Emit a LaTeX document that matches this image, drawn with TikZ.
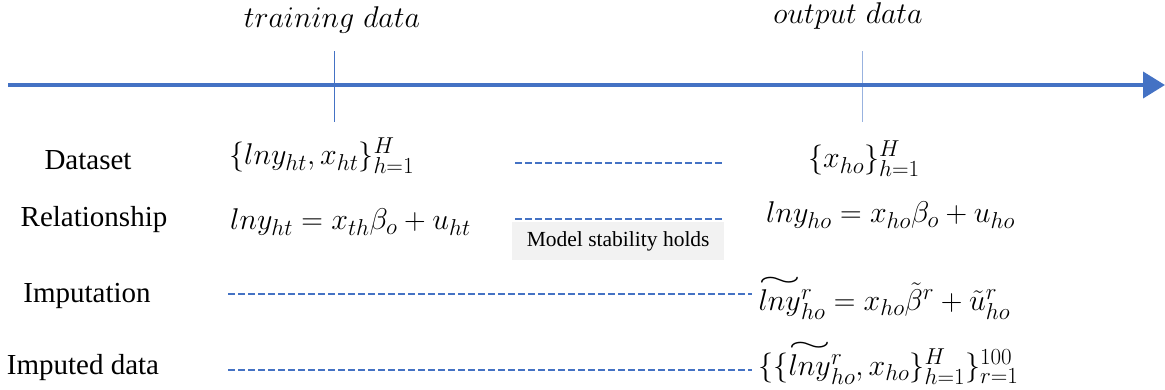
\RequirePackage{fix-cm}
\documentclass[tikz,border=0pt]{standalone}
\usepackage{amsmath}
\usepackage{fontspec}
\newfontfamily\tnr{Liberation Serif}
\usetikzlibrary{arrows.meta}
\definecolor{axisblue}{HTML}{4472C4}
\definecolor{boxgray}{HTML}{F2F2F2}
\DeclareMathSizes{30}{30}{23}{17}
\newcommand{\wlny}{\overset{\raisebox{-2pt}{\scalebox{2.4}[1.1]{$\scriptstyle\sim$}}}{lny}}
\begin{document}
\begin{tikzpicture}[x=1pt,y=-1pt,
  lab/.style={font=\tnr\fontsize{29}{34}\selectfont, inner sep=0pt},
  eq/.style={font=\fontsize{30}{36}\selectfont, inner sep=0pt},
  dashline/.style={axisblue, line width=1.6pt, dash pattern=on 7pt off 3pt},
  tick/.style={axisblue, line width=1pt}]
\useasboundingbox (0,0) rectangle (1165,389);
% axis
\coordinate (axL) at (8,85);
\coordinate (axR) at (1165,85);
\draw[axisblue, line width=4pt, -{Triangle[length=22pt,width=26pt]}] (axL) -- (axR);
\coordinate (t1a) at (334,51); \coordinate (t1b) at (334,122);
\coordinate (t2a) at (862,51); \coordinate (t2b) at (862,122);
\draw[tick] (t1a) -- (t1b);
\draw[tick, draw opacity=0.55] (t2a) -- (t2b);
\node[eq] (train) at (332,20) {$training~data$};
\node[eq] (out) at (848,16) {$output~data$};
% row labels
\node[lab] (ds) at (88,160) {Dataset};
\node[lab] (rel) at (94,220) {Relationship};
\node[lab] (imp) at (87,296) {Imputation};
\node[lab] (impd) at (83,368) {Imputed data};
% equations
\node[eq, anchor=west] (e1) at (229,156) {$\{lny_{ht},x_{ht}\}_{h=1}^{H}$};
\node[eq, anchor=west] (e2) at (230,222) {$lny_{ht}=x_{th}\beta_o+u_{ht}$};
\node[eq, anchor=west] (e3) at (808,159) {$\{x_{ho}\}_{h=1}^{H}$};
\node[eq, anchor=west] (e4) at (766,215) {$lny_{ho}=x_{ho}\beta_o+u_{ho}$};
\node[eq, anchor=west] (e5) at (758,297) {$\wlny{}_{ho}^{r}=x_{ho}\tilde{\beta}^{r}+\tilde{u}_{ho}^{r}$};
\node[eq, anchor=west] (e6) at (758,362) {$\{\{\wlny{}_{ho}^{r},x_{ho}\}_{h=1}^{H}\}_{r=1}^{100}$};
% box
\node[fill=boxgray, minimum width=212pt, minimum height=38pt, inner sep=0pt,
  font=\tnr\fontsize{21.5}{26}\selectfont, anchor=north west] (box) at (512,222) {Model stability holds};
% dashed lines
\coordinate (d1a) at (515,163); \coordinate (d1b) at (724,163);
\coordinate (d2a) at (515,219); \coordinate (d2b) at (724,219);
\coordinate (d3a) at (228,294); \coordinate (d3b) at (752,294);
\coordinate (d4a) at (228,370); \coordinate (d4b) at (752,370);
\draw[dashline] (d1a) -- (d1b);
\draw[dashline] (d2a) -- (d2b);
\draw[dashline] (d3a) -- (d3b);
\draw[dashline] (d4a) -- (d4b);
\end{tikzpicture}
\end{document}
